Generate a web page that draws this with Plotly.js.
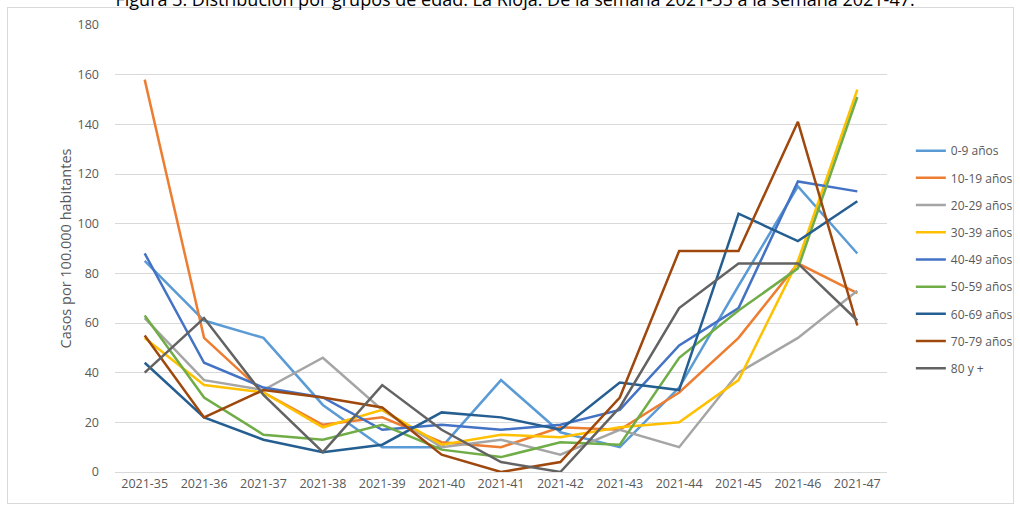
<!DOCTYPE html>
<html>
<head>
<meta charset="utf-8">
<script src="https://cdn.plot.ly/plotly-3.0.1.min.js"></script>
<style>
  html, body { margin: 0; padding: 0; background: #fff; }
  #wrap { position: relative; width: 1020px; height: 510px; overflow: hidden; }
  #frame { position: absolute; left: 7px; top: 7px; width: 1007px; height: 497px; border: 1px solid #d9d9d9; box-sizing: border-box; pointer-events: none; }
  #chart { position: absolute; left: 0; top: 0; width: 1020px; height: 510px; }
</style>
</head>
<body>
<div id="wrap">
  <div id="frame"></div>
  <div id="chart"></div>
</div>
<script>
const weeks = ["2021-35","2021-36","2021-37","2021-38","2021-39","2021-40","2021-41","2021-42","2021-43","2021-44","2021-45","2021-46","2021-47"];
const seriesNames = ["0-9 años","10-19 años","20-29 años","30-39 años","40-49 años","50-59 años","60-69 años","70-79 años","80 y +"];
const age0_9   = [85, 61, 54, 27, 10, 10, 37, 16, 10, 34, 75, 115, 88];
const age10_19 = [158, 54, 32, 19, 22, 12, 10, 18, 17, 32, 54, 84, 72];
const age20_29 = [62, 37, 33, 46, 25, 10, 13, 7, 17, 10, 40, 54, 73];
const age30_39 = [54, 35, 32, 18, 25, 11, 15, 14, 18, 20, 37, 85, 154];
const age40_49 = [88, 44, 34, 30, 17, 19, 17, 19, 25, 51, 66, 117, 113];
const age50_59 = [63, 30, 15, 13, 19, 9, 6, 12, 11, 46, 65, 82, 151];
const age60_69 = [44, 22, 13, 8, 11, 24, 22, 17, 36, 33, 104, 93, 109];
const age70_79 = [55, 22, 33, 30, 26, 7, 0, 4, 30, 89, 89, 141, 59];
const age80    = [40, 62, 31, 8, 35, 17, 4, 0, 26, 66, 84, 84, 61];
const yTicks = [0, 20, 40, 60, 80, 100, 120, 140, 160, 180];

const allSeries = [age0_9, age10_19, age20_29, age30_39, age40_49, age50_59, age60_69, age70_79, age80];
const colors = ["#5B9BD5","#ED7D31","#A5A5A5","#FFC000","#4472C4","#70AD47","#255E91","#9E480E","#636363"];

const traces = allSeries.map((vals, i) => ({
  type: "scatter",
  mode: "lines",
  x: weeks,
  y: vals,
  name: seriesNames[i],
  legendgroup: "g" + i,
  line: { color: colors[i], width: 2.5 },
  hoverinfo: "x+y+name"
}));

const font = "Open Sans, Liberation Sans, sans-serif";
const layout = {
  width: 1020,
  height: 510,
  paper_bgcolor: "rgba(0,0,0,0)",
  plot_bgcolor: "rgba(0,0,0,0)",
  margin: { l: 115, r: 133, t: 25, b: 38, pad: 0, autoexpand: false },
  font: { family: font, color: "#595959", size: 12.5 },
  title: {
    text: "Figura 3. Distribución por grupos de edad. La Rioja. De la semana 2021-35 a la semana 2021-47.",
    font: { family: font, size: 18, color: "#000000" },
    x: 0.505, xanchor: "center",
    yref: "container", y: 1.0, yanchor: "middle"
  },
  xaxis: {
    type: "category",
    tickvals: weeks,
    ticktext: weeks,
    showgrid: false,
    showline: true,
    linecolor: "#d9d9d9",
    linewidth: 1,
    ticks: "",
    tickfont: { size: 12.5, color: "#595959" },
    range: [-0.5, weeks.length - 0.5],
    fixedrange: true
  },
  yaxis: {
    range: [0, 180],
    tickvals: yTicks,
    ticktext: yTicks.map(String),
    showgrid: true,
    gridcolor: "#d9d9d9",
    gridwidth: 1,
    zeroline: false,
    showline: false,
    ticks: "",
    ticklabelstandoff: 15,
    tickfont: { size: 12.5, color: "#595959" },
    title: { text: "Casos por 100.000 habitantes", font: { size: 14.5, color: "#595959" }, standoff: 2 },
    fixedrange: true
  },
  showlegend: true,
  legend: {
    xref: "container", yref: "container",
    x: 0.893, xanchor: "left",
    y: 0.733, yanchor: "top",
    traceorder: "grouped",
    tracegroupgap: 8.2,
    font: { size: 12, color: "#595959" },
    bgcolor: "rgba(0,0,0,0)"
  }
};

Plotly.newPlot("chart", traces, layout, { displayModeBar: false });
</script>
</body>
</html>
